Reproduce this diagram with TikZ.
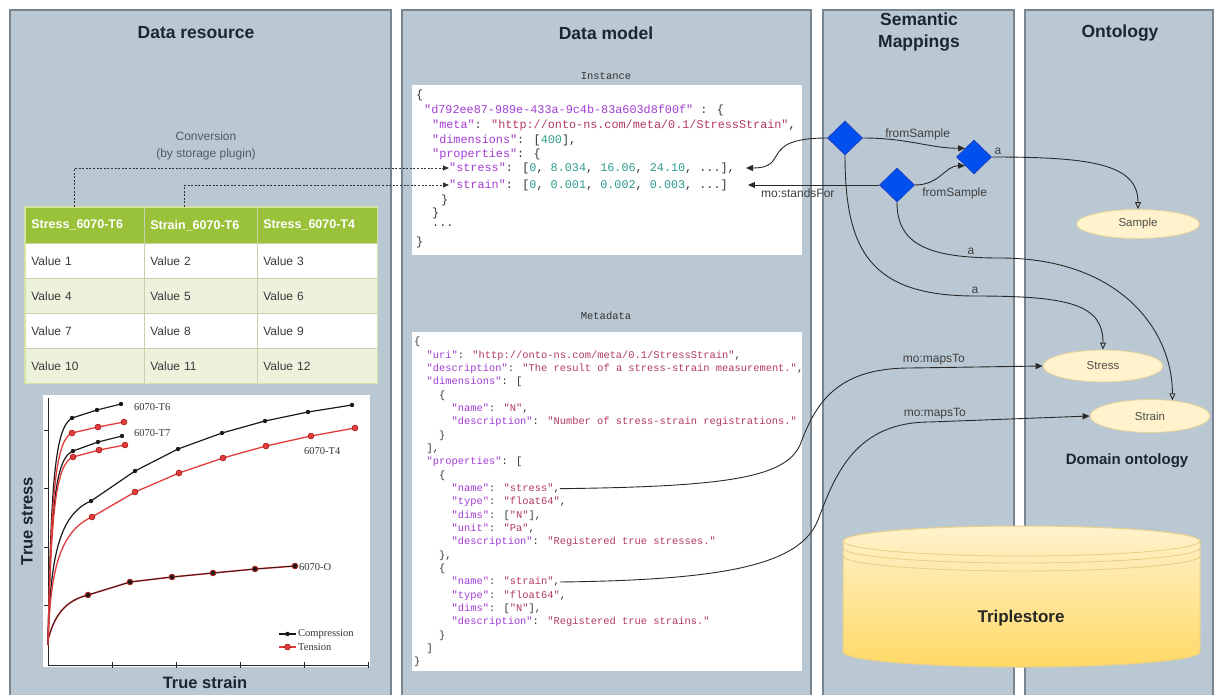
\documentclass[tikz,border=0pt]{standalone}
\usepackage{fontspec}
\setmainfont{Liberation Sans}
\newfontfamily\codefont{Liberation Mono}
\newfontfamily\plotfont{Liberation Serif}
\usetikzlibrary{shapes.geometric,arrows.meta,calc}

\definecolor{panelfill}{HTML}{BAC8D3}
\definecolor{panelline}{HTML}{76858F}
\definecolor{titletext}{HTML}{1B2631}
\definecolor{tabhead}{HTML}{99C23A}
\definecolor{tabalt}{HTML}{ECF2DC}
\definecolor{tabgrid}{HTML}{C6D1AC}
\definecolor{tabframe}{HTML}{D5E4A2}
\definecolor{cellink}{HTML}{3A3A3A}
\definecolor{notegray}{HTML}{4F5A63}
\definecolor{mapfill}{HTML}{0050EF}
\definecolor{mapline}{HTML}{1D3FC4}
\definecolor{linkcol}{HTML}{2A2A2A}
\definecolor{conceptfill}{HTML}{FFF2CC}
\definecolor{conceptline}{HTML}{E4D29A}
\definecolor{storetop}{HTML}{FFF2CC}
\definecolor{storebot}{HTML}{FFD966}
\definecolor{storeline}{HTML}{E9D08A}
\definecolor{jkey}{HTML}{A23CD3}
\definecolor{jstr}{HTML}{B33A5E}
\definecolor{jnum}{HTML}{2E9C8C}
\definecolor{jpunct}{HTML}{333333}
\definecolor{curveblack}{HTML}{1A1A1A}
\definecolor{curvered}{HTML}{E23B3B}

% JSON syntax colouring
\newcommand\jsk[1]{\textcolor{jkey}{#1}}
\newcommand\jss[1]{\textcolor{jstr}{#1}}
\newcommand\jsn[1]{\textcolor{jnum}{#1}}

\tikzset{
  panel/.style={fill=panelfill, draw=panelline, line width=1.3pt},
  paneltitle/.style={font=\fontsize{17.5}{22}\selectfont\bfseries, text=titletext, align=center, inner sep=0pt},
  codebox/.style={fill=white, draw=none},
  codecap/.style={font=\codefont\fontsize{10.5}{12}\selectfont, text=jpunct, inner sep=0pt},
  iline/.style={anchor=west, inner sep=0pt, font=\codefont\fontsize{11.8}{14}\selectfont, text=jpunct},
  mline/.style={anchor=west, inner sep=0pt, font=\codefont\fontsize{10.4}{13}\selectfont, text=jpunct},
  tcell/.style={anchor=north west, inner xsep=6pt, inner ysep=0pt, align=left, minimum height=35pt,
    draw=tabgrid, line width=0.7pt, text=cellink, font=\fontsize{12}{14}\selectfont},
  thead/.style={tcell, fill=tabhead, text=white, minimum height=36pt, font=\fontsize{12.5}{14}\selectfont\bfseries},
  colA/.style={minimum width=119pt, text width=107pt},
  colB/.style={minimum width=113pt, text width=101pt},
  colC/.style={minimum width=120pt, text width=108pt},
  rowodd/.style={fill=white},
  roweven/.style={fill=tabalt},
  note/.style={font=\fontsize{12}{17}\selectfont, text=notegray, align=center, inner sep=0pt},
  lab/.style={font=\fontsize{12}{14}\selectfont, text=black!75, inner sep=1pt},
  mapnode/.style={diamond, fill=mapfill, draw=mapline, line width=0.8pt, minimum width=35pt, minimum height=34pt, inner sep=0pt},
  concept/.style={ellipse, fill=conceptfill, draw=conceptline, line width=0.8pt, inner sep=0pt,
    font=\fontsize{11.5}{13}\selectfont, text=black!70},
  link/.style={draw=linkcol, line width=0.9pt},
  solidtip/.style={-{Triangle[length=7pt,width=6pt]}},
  opentip/.style={-{Triangle[open,length=7pt,width=6pt]}},
  conv/.style={draw=black!80, line width=0.9pt, dash pattern=on 2pt off 1.6pt, -{Triangle[length=6pt,width=5pt]}},
  cblack/.style={draw=curveblack, line width=1.2pt, line join=round},
  cred/.style={draw=curvered, line width=1.3pt, line join=round},
  plotlab/.style={font=\plotfont\fontsize{10.5}{12}\selectfont, text=black!80, inner sep=0pt, anchor=west},
  axislab/.style={font=\fontsize{16.5}{18}\selectfont\bfseries, text=titletext, inner sep=0pt},
}

\begin{document}
\begin{tikzpicture}[x=1pt,y=-1pt]
\useasboundingbox (0,0) rectangle (1214,695);
\clip (0,0) rectangle (1214,695);
\fill[white] (0,0) rectangle (1214,695);

% ---- four swimlane panels ----
\draw[panel] (10,10) rectangle (391,720);
\draw[panel] (402,10) rectangle (811,720);
\draw[panel] (823,10) rectangle (1014,720);
\draw[panel] (1025,10) rectangle (1213,720);

\node[paneltitle] (tres) at (196,33) {Data resource};
\node[paneltitle] (tmod) at (606,33) {Data model};
\node[paneltitle] (tmap) at (919,32) {Semantic\\Mappings};
\node[paneltitle] (tont) at (1120,33) {Ontology};

% ---- data resource: table ----
\node[note] (convnote) at (206,146) {Conversion\\(by storage plugin)};

\node[thead,colA] (h1) at (25,207) {Stress\_6070-T6};
\node[thead,colB] (h2) at (144,207) {Strain\_6070-T6};
\node[thead,colC] (h3) at (257,207) {Stress\_6070-T4};
\node[tcell,colA,rowodd] (v1) at (25,243) {Value 1};
\node[tcell,colB,rowodd] (v2) at (144,243) {Value 2};
\node[tcell,colC,rowodd] (v3) at (257,243) {Value 3};
\node[tcell,colA,roweven] (v4) at (25,278) {Value 4};
\node[tcell,colB,roweven] (v5) at (144,278) {Value 5};
\node[tcell,colC,roweven] (v6) at (257,278) {Value 6};
\node[tcell,colA,rowodd] (v7) at (25,313) {Value 7};
\node[tcell,colB,rowodd] (v8) at (144,313) {Value 8};
\node[tcell,colC,rowodd] (v9) at (257,313) {Value 9};
\node[tcell,colA,roweven] (v10) at (25,348) {Value 10};
\node[tcell,colB,roweven] (v11) at (144,348) {Value 11};
\node[tcell,colC,roweven] (v12) at (257,348) {Value 12};
\draw[tabframe, line width=1.5pt] (h1.north west) rectangle (v12.south east);

% ---- data resource: stress-strain plot ----
\fill[white] (43,395) rectangle (370,667);
\draw[black!85, line width=0.9pt] (48,398) -- (48,665) -- (368,665);
\foreach \tx in {112,176,240,304,368} \draw[black!85, line width=0.8pt] (\tx,662) -- (\tx,668);
\foreach \ty in {430,488,547,605} \draw[black!85, line width=0.8pt] (44,\ty) -- (48,\ty);

% 6070-O (compression and tension coincide)
\draw[cred, line width=1.6pt] (48,640) .. controls (55,612) and (68,600) .. (88,595) -- (130,582) -- (172,577) -- (213,573) -- (255,569) -- (295,566);
\draw[cblack, line width=0.7pt] (48,640) .. controls (55,612) and (68,600) .. (88,595) -- (130,582) -- (172,577) -- (213,573) -- (255,569) -- (295,566);
% 6070-T4
\draw[cblack] (48,645) .. controls (50,560) and (58,515) .. (91,501) -- (135,471) -- (178,449) -- (222,433) -- (265,421) -- (308,412) -- (352,405);
\draw[cred] (48,645) .. controls (50,575) and (58,532) .. (92,517) -- (135,492) -- (179,473) -- (223,458) -- (266,446) -- (311,436) -- (355,428);
% 6070-T7
\draw[cblack] (48,645) .. controls (51,500) and (56,458) .. (73,451) -- (98,442) -- (122,436);
\draw[cred] (48,645) .. controls (51,510) and (56,464) .. (73,457) -- (99,450) -- (125,445);
% 6070-T6
\draw[cblack] (48,645) .. controls (51,480) and (55,428) .. (72,418) -- (97,410) -- (121,404);
\draw[cred] (48,645) .. controls (51,490) and (56,440) .. (72,433) -- (98,427) -- (124,422);

\foreach \mx/\my in {72/433,98/427,124/422,73/457,99/450,125/445,92/517,135/492,179/473,223/458,266/446,311/436,355/428,88/595,130/582,172/577,213/573,255/569,295/566}
  \filldraw[fill=curvered, draw=red!55!black, line width=0.4pt] (\mx,\my) circle[radius=3pt];
\foreach \mx/\my in {72/418,97/410,121/404,73/451,98/442,122/436,91/501,135/471,178/449,222/433,265/421,308/412,352/405,88/595,130/582,172/577,213/573,255/569,295/566}
  \fill[curveblack] (\mx,\my) circle[radius=2.2pt];

\node[plotlab] (lt6) at (134,407) {6070-T6};
\node[plotlab] (lt7) at (134,433) {6070-T7};
\node[plotlab] (lt4) at (304,451) {6070-T4};
\node[plotlab] (lo) at (299,567) {6070-O};

\draw[cblack] (279,634) -- (296,634);
\fill[curveblack] (287.5,634) circle[radius=2.2pt];
\draw[cred] (279,647) -- (296,647);
\filldraw[fill=curvered, draw=red!55!black, line width=0.4pt] (287.5,647) circle[radius=3pt];
\node[plotlab] (lgc) at (298,634) {Compression};
\node[plotlab] (lgt) at (298,647) {Tension};

\node[axislab, rotate=90] (ystress) at (27,521) {True stress};
\node[axislab] (xstrain) at (205,683) {True strain};

% ---- data model: instance ----
\node[codecap] (capinst) at (606,76) {Instance};
\fill[codebox] (412,85) rectangle (802,255);
\node[iline] (i1) at (416,95) {\{};
\node[iline] (i2) at (424,110) {\jsk{"d792ee87-989e-433a-9c4b-83a603d8f00f"} : \{};
\node[iline] (i3) at (432,125) {\jsk{"meta"}: \jss{"http://onto-ns.com/meta/0.1/StressStrain"},};
\node[iline] (i4) at (432,140) {\jsk{"dimensions"}: [\jsn{400}],};
\node[iline] (i5) at (432,154) {\jsk{"properties"}: \{};
\node[iline] (istress) at (449,168) {\jsk{"stress"}: [\jsn{0}, \jsn{8.034}, \jsn{16.06}, \jsn{24.10}, ...],};
\node[iline] (istrain) at (449,185) {\jsk{"strain"}: [\jsn{0}, \jsn{0.001}, \jsn{0.002}, \jsn{0.003}, ...]};
\node[iline] (i8) at (441,200) {\}};
\node[iline] (i9) at (432,213) {\}};
\node[iline] (i10) at (432,226) {...};
\node[iline] (i11) at (416,242) {\}};

% ---- data model: metadata ----
\node[codecap] (capmeta) at (606,316) {Metadata};
\fill[codebox] (412,332) rectangle (802,671);
\node[mline] (m1) at (414,342.00) {\{};
\node[mline] (m2) at (426.5,355.33) {\jsk{"uri"}: \jss{"http://onto-ns.com/meta/0.1/StressStrain"},};
\node[mline] (m3) at (426.5,368.67) {\jsk{"description"}: \jss{"The result of a stress-strain measurement."},};
\node[mline] (m4) at (426.5,382.00) {\jsk{"dimensions"}: [};
\node[mline] (m5) at (439,395.33) {\{};
\node[mline] (m6) at (451.4,408.67) {\jsk{"name"}: \jss{"N"},};
\node[mline] (m7) at (451.4,422.00) {\jsk{"description"}: \jss{"Number of stress-strain registrations."}};
\node[mline] (m8) at (439,435.33) {\}};
\node[mline] (m9) at (426.5,448.67) {],};
\node[mline] (m10) at (426.5,462.00) {\jsk{"properties"}: [};
\node[mline] (m11) at (439,475.33) {\{};
\node[mline] (mstress) at (451.4,488.67) {\jsk{"name"}: \jss{"stress"},};
\node[mline] (m13) at (451.4,502.00) {\jsk{"type"}: \jss{"float64"},};
\node[mline] (m14) at (451.4,515.33) {\jsk{"dims"}: [\jss{"N"}],};
\node[mline] (m15) at (451.4,528.67) {\jsk{"unit"}: \jss{"Pa"},};
\node[mline] (m16) at (451.4,542.00) {\jsk{"description"}: \jss{"Registered true stresses."}};
\node[mline] (m17) at (439,555.33) {\},};
\node[mline] (m18) at (439,568.67) {\{};
\node[mline] (mstrain) at (451.4,582.00) {\jsk{"name"}: \jss{"strain"},};
\node[mline] (m20) at (451.4,595.33) {\jsk{"type"}: \jss{"float64"},};
\node[mline] (m21) at (451.4,608.67) {\jsk{"dims"}: [\jss{"N"}],};
\node[mline] (m22) at (451.4,622.00) {\jsk{"description"}: \jss{"Registered true strains."}};
\node[mline] (m23) at (439,635.33) {\}};
\node[mline] (m24) at (426.5,648.67) {]};
\node[mline] (m25) at (414,662.00) {\}};

% ---- semantic mappings ----
\node[mapnode] (d1) at (845,138) {};
\node[mapnode] (d2) at (974,157) {};
\node[mapnode] (d3) at (897,185) {};

% ---- ontology ----
\node[concept, minimum width=123pt, minimum height=29pt] (sample) at (1138,224) {Sample};
\node[concept, minimum width=120pt, minimum height=32pt] (stress) at (1103,366) {Stress};
\node[concept, minimum width=120pt, minimum height=33pt] (strain) at (1150,416) {Strain};
\node[font=\fontsize{15}{18}\selectfont\bfseries, text=titletext, inner sep=0pt] (domont) at (1127,461) {Domain ontology};

% triplestore drum
\shade[top color=storetop, bottom color=storebot, draw=storeline, line width=1pt]
  (843,541) -- (843,652) arc[start angle=180, end angle=360, x radius=178.5pt, y radius=15pt]
  -- (1200,541) arc[start angle=0, end angle=180, x radius=178.5pt, y radius=15pt] -- cycle;
\foreach \dy in {0,7,15}
  \draw[storeline, line width=0.9pt] (843,541+\dy) arc[start angle=180, end angle=360, x radius=178.5pt, y radius=15pt];
\node[font=\fontsize{17}{20}\selectfont\bfseries, text=black!85, inner sep=0pt] (store) at (1021,618) {Triplestore};

% ---- connectors ----
\draw[conv] ([xshift=-10.5pt]h1.north) |- (istress.west);
\draw[conv] ([xshift=-16.5pt]h2.north) |- (istrain.west);

\draw[link, solidtip] (d1.west) .. controls +(-70,0) and +(45,0) .. ([xshift=11pt]istress.east);
\draw[link, solidtip] (d3.west) -- ([xshift=20pt]istrain.east)
  node[pos=0.62, below=2pt, lab] {mo:standsFor};

\draw[link, solidtip] (d1.east) .. controls +(45,0) and +(-35,0) .. (d2.north west)
  node[pos=0.5, above=2pt, lab] {fromSample};
\draw[link, solidtip] (d3.east) .. controls +(25,0) and +(-20,0) .. (d2.south west)
  node[pos=0, anchor=north west, xshift=6pt, yshift=-1pt, lab] {fromSample};

\draw[link, opentip] (d2.east) .. controls +(100,0) and +(0,-45) .. (sample.north)
  node[pos=0.02, above=1pt, lab] {a};
\draw[link, opentip] (d1.south) .. controls +(0,95) and +(-105,0) .. (975,296)
  node[pos=1, above=1pt, lab] {a}
  .. controls +(95,0) and +(0,-45) .. (stress.north);
\draw[link, opentip] (d3.south) .. controls +(0,43) and +(-70,0) .. (1000,258)
  node[pos=0.85, above=1pt, lab] {a}
  .. controls +(120,0) and +(0,-70) .. (strain.35);

\draw[link, solidtip] (mstress.east) .. controls +(165,-2) and +(-15,33) .. (800,445)
  .. controls +(15,-40) and +(-75,0) .. (910,368) -- (stress.west)
  node[pos=0.18, above=1pt, lab] {mo:mapsTo};
\draw[link, solidtip] (mstrain.east) .. controls +(165,-2) and +(-18,45) .. (818,520)
  .. controls +(17,-45) and +(-75,0) .. (930,422) -- (strain.west)
  node[pos=0.03, above=1pt, lab] {mo:mapsTo};
\end{tikzpicture}
\end{document}
